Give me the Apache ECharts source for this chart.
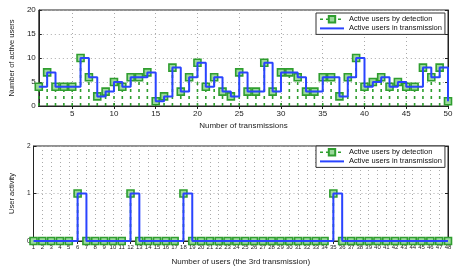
<!DOCTYPE html>
<html><head><meta charset="utf-8">
<script src="https://cdn.jsdelivr.net/npm/echarts@6/dist/echarts.min.js"></script>
<style>html,body{margin:0;padding:0;background:#fff}#c{width:457px;height:267px}</style>
</head><body><div id="c"></div>
<script>
// Top chart: number of active users per transmission
const transmissions = [1,2,3,4,5,6,7,8,9,10,11,12,13,14,15,16,17,18,19,20,21,22,23,24,25,26,27,28,29,30,31,32,33,34,35,36,37,38,39,40,41,42,43,44,45,46,47,48,49,50];
const detectedTop = [4,7,4,4,4,10,6,2,3,5,4,6,6,7,1,2,8,3,6,9,4,6,3,2,7,3,3,9,3,7,7,6,3,3,6,6,2,6,10,4,5,6,4,5,4,4,8,6,8,1];
const transmittedTop = [4,7,4,4,4,10,6,2,3,5,4,6,6,7,1,2,8,3,6,9,4,6,3,2,7,3,3,9,3,7,7,6,3,3,6,6,2,6,10,4,5,6,4,5,4,4,8,6,8,1];
const topXTicks = [5,10,15,20,25,30,35,40,45,50];
// Bottom chart: user activity in the 3rd transmission
const users = [1,2,3,4,5,6,7,8,9,10,11,12,13,14,15,16,17,18,19,20,21,22,23,24,25,26,27,28,29,30,31,32,33,34,35,36,37,38,39,40,41,42,43,44,45,46,47,48];
const detectedBot = [0,0,0,0,0,1,0,0,0,0,0,1,0,0,0,0,0,1,0,0,0,0,0,0,0,0,0,0,0,0,0,0,0,0,1,0,0,0,0,0,0,0,0,0,0,0,0,0];
const transmittedBot = [0,0,0,0,0,1,0,0,0,0,0,1,0,0,0,0,0,1,0,0,0,0,0,0,0,0,0,0,0,0,0,0,0,0,1,0,0,0,0,0,0,0,0,0,0,0,0,0];
const NAME_DET = 'Active users by detection';
const NAME_TR = 'Active users in transmission';

const GREEN = '#2f9e2f', GREEN_FILL = '#9bd89b', BLUE = '#2a44ff';
const FONT = 'Liberation Sans';
const chart = echarts.init(document.getElementById('c'), null, {renderer:'canvas'});

const pairs = (xs, ys) => xs.map((x,i)=>[x, ys[i]]);
const stemRender = (params, api) => {
  const x = api.value(0), y = api.value(1);
  if (!y) return null;
  const p0 = api.coord([x,0]), p1 = api.coord([x,y]);
  return {type:'line', shape:{x1:p0[0],y1:p0[1],x2:p1[0],y2:p1[1]},
    style:{stroke:GREEN, lineWidth:1.6, lineDash:[3,4]}};
};
const grid = (top) => ({left:27, right:9, top:top, height:96, show:true, borderColor:'#222', borderWidth:1, backgroundColor:'#fff'});
const dotted = {type:[1,3], color:'#aaa', width:1};
const split = {show:true, lineStyle:dotted};
const axLine = {show:true, lineStyle:{color:'#222', width:1}};
const lbl = (fs, m) => ({fontFamily:FONT, fontSize:fs, color:'#222', margin:m});

const legend = (top) => ({
  orient:'vertical', left:316, top:top, backgroundColor:'#fff', borderColor:'#333', borderWidth:1,
  padding:[2,3,2,3], itemGap:1, itemWidth:24, itemHeight:8,
  textStyle:{fontFamily:FONT, fontSize:7.5, color:'#111', padding:[0,0,0,0]},
  data:[
    {name:NAME_DET, lineStyle:{type:[3,3], color:GREEN, width:1.6, opacity:1}},
    {name:NAME_TR, itemStyle:{opacity:0, color:'rgba(0,0,0,0)', borderWidth:0}}
  ]
});

const option = {
  animation:false,
  backgroundColor:'#fff',
  grid:[grid(10), grid(146)],
  legend:[legend(13), legend(146)],
  xAxis:[
    {gridIndex:0, type:'value', min:1, max:50, name:'Number of transmissions', nameLocation:'middle', nameGap:16,
     nameTextStyle:{fontFamily:FONT, fontSize:8, color:'#222'},
     axisLine:axLine, axisTick:{show:true, inside:true, length:3, customValues:topXTicks, lineStyle:{color:'#222'}},
     axisLabel:Object.assign(lbl(8,4), {customValues:topXTicks}), splitLine:{show:false}},
    {gridIndex:0, type:'value', min:1, max:50, position:'top',
     axisLine:axLine, axisTick:{show:true, inside:true, length:3, customValues:topXTicks, lineStyle:{color:'#222'}},
     axisLabel:{show:false}, splitLine:{show:false}},
    {gridIndex:1, type:'value', min:1, max:48, interval:1, name:'Number of users (the 3rd transmission)', nameLocation:'middle', nameGap:17,
     nameTextStyle:{fontFamily:FONT, fontSize:8, color:'#222'},
     axisLine:axLine, axisTick:{show:true, inside:true, length:3, lineStyle:{color:'#222'}},
     axisLabel:Object.assign(lbl(6,3), {interval:0, hideOverlap:false, showMinLabel:true, showMaxLabel:true}), splitLine:split},
    {gridIndex:1, type:'value', min:1, max:48, interval:1, position:'top',
     axisLine:axLine, axisTick:{show:true, inside:true, length:3, lineStyle:{color:'#222'}},
     axisLabel:{show:false}, splitLine:{show:false}}
  ],
  yAxis:[
    {gridIndex:0, type:'value', min:0, max:20, interval:5, name:'Number of active users', nameLocation:'middle', nameGap:15,
     nameTextStyle:{fontFamily:FONT, fontSize:7.5, color:'#222'},
     axisLine:axLine, axisTick:{show:true, inside:true, length:3, lineStyle:{color:'#222'}},
     axisLabel:lbl(8,3), splitLine:split},
    {gridIndex:0, type:'value', min:0, max:20, interval:5, position:'right',
     axisLine:axLine, axisTick:{show:true, inside:true, length:3, lineStyle:{color:'#222'}},
     axisLabel:{show:false}, splitLine:{show:false}},
    {gridIndex:1, type:'value', min:0, max:2, interval:1, name:'User activity', nameLocation:'middle', nameGap:14,
     nameTextStyle:{fontFamily:FONT, fontSize:7.5, color:'#222'},
     axisLine:axLine, axisTick:{show:true, inside:true, length:3, lineStyle:{color:'#222'}},
     axisLabel:lbl(6.5,3), splitLine:split},
    {gridIndex:1, type:'value', min:0, max:2, interval:1, position:'right',
     axisLine:axLine, axisTick:{show:true, inside:true, length:3, lineStyle:{color:'#222'}},
     axisLabel:{show:false}, splitLine:{show:false}}
  ],
  series:[
    // top chart
    {type:'custom', name:'stems-top', xAxisIndex:0, yAxisIndex:0, data:pairs(transmissions, detectedTop), renderItem:stemRender, z:2, silent:true,
     markLine:{silent:true, symbol:['none','none'], label:{show:false}, lineStyle:dotted, animation:false, z:1,
       data:topXTicks.slice(0,-1).map(v=>({xAxis:v}))}},
    {type:'line', name:NAME_DET, xAxisIndex:0, yAxisIndex:0, data:pairs(transmissions, detectedTop),
     symbol:'rect', symbolSize:7, showSymbol:true, lineStyle:{opacity:0, color:GREEN, type:[3,3], width:1.6},
     itemStyle:{color:GREEN_FILL, borderColor:GREEN, borderWidth:1.6}, z:3},
    {type:'line', name:NAME_TR, xAxisIndex:0, yAxisIndex:0, data:pairs(transmissions, transmittedTop), step:'end',
     symbol:'none', lineStyle:{color:BLUE, width:2}, itemStyle:{color:BLUE}, z:4},
    // bottom chart
    {type:'custom', name:'stems-bot', xAxisIndex:2, yAxisIndex:2, data:pairs(users, detectedBot), renderItem:stemRender, z:2, silent:true},
    {type:'line', name:NAME_DET, xAxisIndex:2, yAxisIndex:2, data:pairs(users, detectedBot),
     symbol:'rect', symbolSize:7, showSymbol:true, lineStyle:{opacity:0, color:GREEN, type:[3,3], width:1.6},
     itemStyle:{color:GREEN_FILL, borderColor:GREEN, borderWidth:1.6}, z:3},
    {type:'line', name:NAME_TR, xAxisIndex:2, yAxisIndex:2, data:pairs(users, transmittedBot), step:'end',
     symbol:'none', lineStyle:{color:BLUE, width:2}, itemStyle:{color:BLUE}, z:4}
  ]
};
chart.setOption(option);
</script></body></html>
